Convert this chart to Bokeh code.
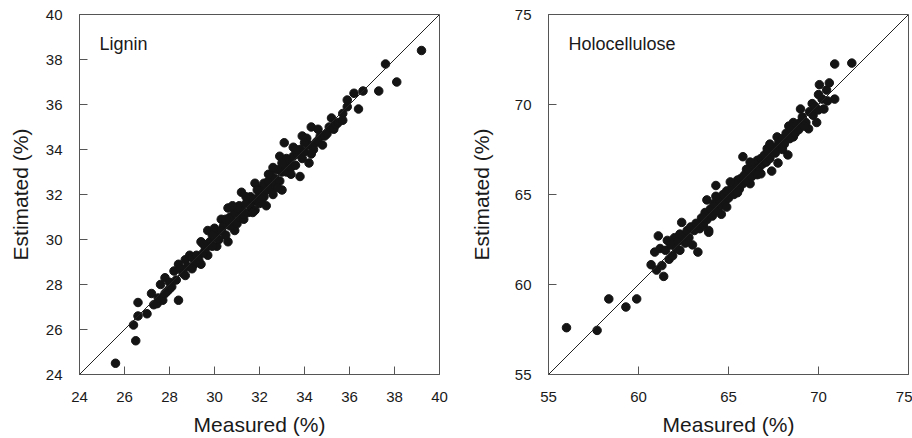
from bokeh.plotting import figure
from bokeh.models import Range1d, LinearAxis, FixedTicker, Slope, Label
from bokeh.layouts import row
from bokeh.embed import file_html
from bokeh.resources import INLINE

# ---------------- data ----------------
lignin_ticks = [24, 26, 28, 30, 32, 34, 36, 38, 40]
holo_ticks = [55, 60, 65, 70, 75]

lignin_measured = [
    25.6, 26.5, 26.4, 26.6, 26.6, 27.0, 27.2, 27.3, 27.45, 27.6,
    27.7, 27.8, 27.9, 28.0, 28.4, 28.2, 28.4, 28.7, 28.7, 28.9,
    29.4, 29.7, 29.4, 29.7, 30.1, 30.1, 30.6, 30.3, 30.6, 30.9,
    27.5, 27.8, 28.0, 28.1, 28.3, 28.5, 28.6, 28.8, 29.0, 29.1,
    29.2, 29.3, 29.5, 29.6, 29.8, 29.9, 30.0, 30.2, 30.0, 29.9,
    30.4, 30.5, 30.7, 30.7, 30.8, 30.9, 31.0, 31.1, 31.1, 31.2,
    31.2, 31.3, 31.4, 31.5, 31.6, 31.6, 31.7, 31.8, 31.8, 31.9,
    32.0, 32.0, 32.1, 32.2, 32.2, 32.3, 32.3, 32.4, 32.5, 32.5,
    32.6, 32.7, 32.7, 32.8, 32.9, 32.9, 33.0, 33.0, 31.0, 31.3,
    33.1, 33.1, 33.2, 33.3, 33.4, 33.5, 33.5, 33.6, 33.7, 33.8,
    33.8, 33.9, 33.9, 34.0, 34.1, 34.2, 34.2, 34.3, 34.4, 34.5,
    34.6, 34.7, 34.8, 34.9, 35.0, 35.1, 35.3, 35.4, 35.5, 35.7,
    35.7, 35.9, 35.9, 36.2, 36.4, 36.6, 37.3, 37.6, 38.1, 39.2,
    30.3, 30.8, 31.4, 31.7, 32.1, 32.4, 32.8, 33.2, 33.4, 33.6,
    34.0, 34.3, 31.9, 30.5, 29.5, 29.0, 32.6, 33.0, 34.6, 35.2,
]
lignin_estimated = [
    24.5, 25.5, 26.2, 26.6, 27.2, 26.7, 27.6, 27.1, 27.15, 28.0,
    27.3, 28.3, 27.7, 27.8, 27.3, 28.6, 28.9, 28.4, 29.1, 29.3,
    28.9, 29.3, 29.9, 30.4, 29.7, 30.3, 29.9, 30.9, 31.4, 30.4,
    27.4, 27.6, 28.1, 27.9, 28.2, 28.7, 28.5, 28.8, 29.2, 28.9,
    29.3, 29.1, 29.4, 29.6, 29.9, 29.7, 30.1, 30.0, 30.5, 30.2,
    30.6, 30.2, 30.6, 31.0, 30.8, 31.2, 30.7, 31.0, 31.5, 32.1,
    31.3, 30.9, 31.6, 31.2, 31.9, 31.5, 31.8, 32.5, 31.3, 31.7,
    32.0, 31.6, 32.3, 32.5, 31.9, 31.5, 32.2, 32.6, 32.9, 32.3,
    32.0, 32.7, 32.4, 33.1, 32.6, 33.7, 32.2, 33.0, 31.4, 31.1,
    34.3, 33.3, 33.0, 33.5, 33.2, 34.1, 33.7, 33.3, 33.8, 32.8,
    34.0, 34.6, 33.6, 33.9, 34.5, 33.4, 34.2, 35.0, 34.0, 34.3,
    34.4, 34.6, 34.2, 34.6, 34.7, 35.0, 34.9, 35.1, 35.2, 35.6,
    35.3, 36.2, 35.9, 36.5, 35.8, 36.6, 36.6, 37.8, 37.0, 38.4,
    30.4, 31.5, 31.9, 31.2, 31.8, 32.9, 32.3, 33.6, 32.9, 34.0,
    34.3, 33.8, 32.2, 30.9, 29.8, 28.7, 33.2, 33.4, 34.9, 35.4,
]

holo_measured = [
    56.0, 57.7, 58.35, 59.3, 59.9, 60.7, 61.0, 61.4, 61.3, 60.9,
    61.1, 61.7, 61.6, 62.3, 63.0, 63.3, 62.4, 63.9, 61.2, 61.5,
    61.8, 62.0, 62.1, 62.2, 62.5, 62.6, 62.7, 62.8, 62.9, 63.1,
    63.2, 63.4, 63.5, 63.6, 63.7, 63.8, 61.9, 62.3, 63.6, 63.9,
    63.8, 64.6, 64.3, 65.1, 65.5, 66.2, 65.8, 66.0, 66.8, 67.15,
    67.4, 67.75, 67.7, 68.3, 68.6, 68.35, 69.0, 69.45, 69.9, 69.0,
    70.3, 69.65, 70.0, 70.45, 70.9, 70.05, 70.6, 70.9, 71.85,
    64.0, 64.1, 64.2, 64.4, 64.5, 64.6, 64.7, 64.8, 64.9, 65.0,
    65.2, 65.3, 65.4, 65.6, 65.7, 65.8, 65.9, 66.0, 66.1, 66.3,
    66.4, 66.5, 66.6, 66.7, 66.8, 66.9, 67.0, 67.1, 67.2, 67.3,
    67.5, 67.6, 67.8, 67.9, 68.0, 68.1, 68.2, 68.4, 68.5, 68.7,
    68.8, 68.9, 69.1, 69.3, 69.5, 69.7, 69.8, 70.0, 70.2, 70.5,
    64.3, 64.9, 65.5, 66.2, 66.6, 67.3, 68.0, 68.6, 69.2, 65.1,
]
holo_estimated = [
    57.6, 57.45, 59.2, 58.75, 59.2, 61.1, 60.8, 60.45, 61.05, 61.8,
    62.7, 61.4, 62.45, 61.9, 62.2, 61.8, 63.45, 62.9, 62.0, 61.9,
    62.2, 62.6, 62.0, 62.4, 62.7, 62.3, 63.0, 62.6, 63.2, 63.0,
    63.4, 63.1, 63.7, 63.3, 64.0, 63.6, 61.6, 62.8, 63.7, 63.0,
    64.7, 63.9, 65.5, 65.1, 65.8, 65.6, 67.1, 66.4, 66.15, 67.55,
    66.3, 66.75, 68.2, 67.2, 68.2, 68.8, 69.0, 68.65, 69.0, 69.75,
    69.75, 70.05, 70.55, 70.8, 70.3, 71.1, 71.2, 72.25, 72.3,
    64.2, 63.8, 64.5, 64.1, 64.7, 64.4, 65.0, 64.6, 65.2, 64.8,
    65.4, 65.0, 65.6, 65.3, 65.9, 65.6, 66.1, 65.8, 66.4, 66.0,
    66.6, 66.3, 66.9, 66.5, 67.0, 66.7, 67.2, 66.8, 67.4, 67.0,
    67.6, 67.3, 67.9, 67.6, 68.1, 67.8, 68.4, 68.1, 68.6, 68.4,
    68.9, 68.6, 69.3, 69.0, 69.6, 69.4, 69.9, 69.7, 70.3, 70.2,
    64.9, 64.3, 65.1, 66.8, 66.1, 67.8, 67.5, 69.0, 68.8, 65.7,
]

FONT = "Liberation Sans"
AXIS_COLOR = "#555555"
TEXT_COLOR = "#1a1a1a"
FRAME = 360


def make_panel(measured, estimated, ticks, name, border_left, border_right,
               ylabel_standoff):
    lo, hi = ticks[0], ticks[-1]
    upp = (hi - lo) / FRAME  # data units per pixel
    p = figure(width=456, height=438,
               x_range=Range1d(lo, hi), y_range=Range1d(lo, hi),
               x_axis_location=None, y_axis_location=None,
               output_backend="svg", toolbar_location=None,
               min_border_left=border_left, min_border_right=border_right,
               min_border_top=14, min_border_bottom=64)
    p.xgrid.visible = False
    p.ygrid.visible = False
    p.outline_line_color = AXIS_COLOR
    p.outline_line_width = 1
    p.background_fill_color = "white"
    p.border_fill_color = "white"

    common = dict(ticker=FixedTicker(ticks=ticks),
                  major_tick_in=8, major_tick_out=0,
                  minor_tick_line_color=None,
                  axis_line_color=AXIS_COLOR, major_tick_line_color=AXIS_COLOR,
                  major_label_standoff=17,
                  major_label_text_font=FONT,
                  major_label_text_font_size="15px",
                  major_label_text_color=TEXT_COLOR,
                  axis_label_text_font=FONT,
                  axis_label_text_font_size="21px",
                  axis_label_text_font_style="normal",
                  axis_label_text_color=TEXT_COLOR)

    xa = LinearAxis(axis_label="Measured (%)", axis_label_standoff=8, **common)
    p.add_layout(xa, "below")

    ya = LinearAxis(axis_label="Estimated (%)",
                    axis_label_standoff=ylabel_standoff, **common)
    p.add_layout(ya, "left")

    p.add_layout(Slope(gradient=1, y_intercept=0, line_color="#222222",
                       line_width=1))
    p.scatter(measured, estimated, size=8.5, fill_color="#141414",
              line_color="#141414")

    p.add_layout(Label(x=lo + 20 * upp, y=hi - 29 * upp, text=name,
                       text_baseline="middle", text_align="left",
                       text_font=FONT, text_font_size="18px",
                       text_color=TEXT_COLOR))
    return p


p1 = make_panel(lignin_measured, lignin_estimated, lignin_ticks, "Lignin",
                79, 17, 11)
p2 = make_panel(holo_measured, holo_estimated, holo_ticks, "Holocellulose",
                92, 4, 19)

layout = row(p1, p2)
open("out.html", "w").write(file_html(layout, INLINE))
